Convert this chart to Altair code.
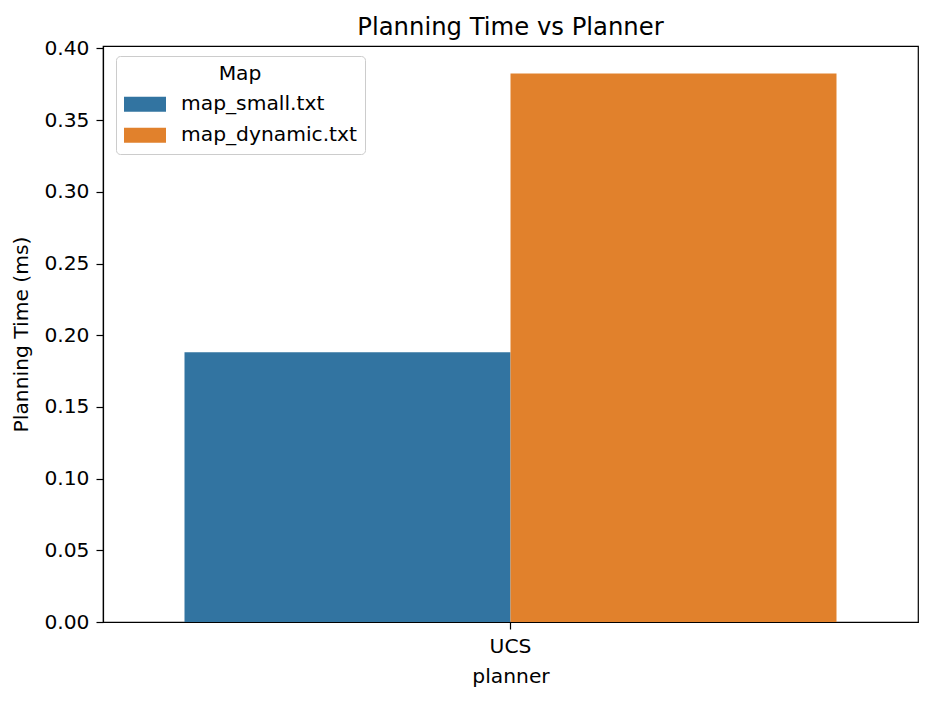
import altair as alt
import pandas as pd

planners = ["UCS", "UCS"]
maps = ["map_small.txt", "map_dynamic.txt"]
times = [0.1882, 0.3826]
colors = ["#3274a1", "#e1812c"]
y_ticks = [0.0, 0.05, 0.10, 0.15, 0.20, 0.25, 0.30, 0.35, 0.40]

df = pd.DataFrame({"planner": planners, "map": maps, "time": times})

FONT = "DejaVu Sans"
FS = 20.25

chart = (
    alt.Chart(df)
    .mark_bar()
    .encode(
        x=alt.X(
            "planner:N",
            title="planner",
            scale=alt.Scale(paddingInner=0, paddingOuter=0.125),
            axis=alt.Axis(labelAngle=0, tickSize=7, labelPadding=7, titlePadding=10),
        ),
        xOffset=alt.XOffset(
            "map:N", sort=maps, scale=alt.Scale(paddingInner=0, paddingOuter=0)
        ),
        y=alt.Y(
            "time:Q",
            title="Planning Time (ms)",
            scale=alt.Scale(domain=[0, 0.4017], nice=False, zero=True),
            axis=alt.Axis(values=y_ticks, format=".2f", tickSize=7, labelPadding=7, titlePadding=12),
        ),
        color=alt.Color(
            "map:N",
            sort=maps,
            scale=alt.Scale(domain=maps, range=colors),
            legend=alt.Legend(
                title="Map",
                orient="none",
                legendX=13,
                legendY=10,
                titleAnchor="middle",
                symbolType="M-1,-0.5H1.8V0.5H-1Z",
                symbolSize=900,
                symbolStrokeWidth=0,
                labelOffset=27,
                labelLimit=400,
                padding=8,
                titlePadding=5,
                rowPadding=5,
                fillColor="white",
                strokeColor="#cccccc",
                cornerRadius=4,
            ),
        ),
    )
    .properties(
        width=815,
        height=576,
        title=alt.TitleParams(
            "Planning Time vs Planner",
            fontSize=24.3,
            font=FONT,
            fontWeight="normal",
            anchor="middle",
            baseline="alphabetic",
            offset=-21,
            color="black",
        ),
        autosize=alt.AutoSizeParams(type="none"),
        padding={"left": 103, "top": 46, "right": 15, "bottom": 79},
    )
    .configure_view(stroke="black", strokeWidth=1.2)
    .configure_axis(
        grid=False,
        domainColor="black",
        domainWidth=1.2,
        tickColor="black",
        tickWidth=1.2,
        labelFont=FONT,
        labelFontSize=FS,
        labelColor="black",
        titleFont=FONT,
        titleFontSize=FS,
        titleFontWeight="normal",
        titleColor="black",
    )
    .configure_legend(
        labelFont=FONT,
        labelFontSize=FS,
        labelColor="black",
        titleFont=FONT,
        titleFontSize=FS,
        titleFontWeight="normal",
        titleColor="black",
    )
)

chart.save("out.html", embed_options={"renderer": "svg", "actions": False})
